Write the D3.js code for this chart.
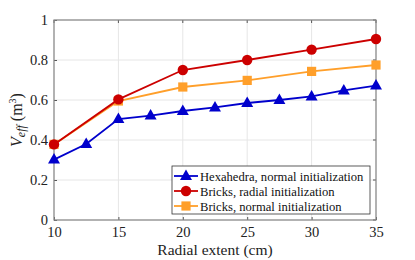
<!DOCTYPE html>
<html><head><meta charset="utf-8">
<script src="https://cdn.jsdelivr.net/npm/d3@7"></script>
<style>body{margin:0;background:#fff}svg{display:block}svg text{font-family:'Liberation Serif','Times New Roman',Times,'DejaVu Serif',serif}</style>
</head><body><svg id="c" width="415" height="260"></svg>
<script>
const hexX = [10,12.5,15,17.5,20,22.5,25,27.5,30,32.5,35];
const hexY = [0.302,0.38,0.505,0.522,0.545,0.563,0.585,0.6,0.618,0.648,0.672];
const radX = [10,15,20,25,30,35];
const radY = [0.378,0.603,0.75,0.8,0.852,0.905];
const nrmX = [10,15,20,25,30,35];
const nrmY = [0.378,0.595,0.665,0.698,0.743,0.775];
const xTicks = [10,15,20,25,30,35];
const yTicks = [0,0.2,0.4,0.6,0.8,1];
const yTickLabels = ["0","0.2","0.4","0.6","0.8","1"];
const legendLabels = ["Hexahedra, normal initialization","Bricks, radial initialization","Bricks, normal initialization"];
const colors = ["#0000cc","#cc0000","#ff9f2a"];
const FONT = "'Liberation Serif','Times New Roman',Times,'DejaVu Serif',serif";

const svg = d3.select("#c");
const L=54, R=376, T=20, B=220;
const x = d3.scaleLinear().domain([10,35]).range([L,R]);
const y = d3.scaleLinear().domain([0,1]).range([B,T]);

svg.append("g").selectAll("line").data(xTicks).join("line")
  .attr("x1",d=>x(d)).attr("x2",d=>x(d)).attr("y1",T).attr("y2",B)
  .attr("stroke","#e6e6e6").attr("stroke-width",1);
svg.append("g").selectAll("line").data(yTicks).join("line")
  .attr("y1",d=>y(d)).attr("y2",d=>y(d)).attr("x1",L).attr("x2",R)
  .attr("stroke","#e6e6e6").attr("stroke-width",1);

const xa = svg.append("g").attr("transform",`translate(0,${B})`)
  .call(d3.axisBottom(x).tickValues(xTicks).tickSize(-3).tickPadding(7).tickFormat(d3.format("d")));
const ya = svg.append("g").attr("transform",`translate(${L},0)`)
  .call(d3.axisLeft(y).tickValues(yTicks).tickSize(-3).tickPadding(6).tickFormat((d,i)=>yTickLabels[i]));
[xa,ya].forEach(a=>{
  a.attr("font-family",FONT);
  a.select(".domain").remove();
  a.selectAll(".tick line").attr("stroke","#555");
  a.selectAll("text").attr("font-size",14.5).attr("fill","#222").style("font-family",FONT);
});
svg.append("g").selectAll("line").data(xTicks).join("line")
  .attr("x1",d=>x(d)).attr("x2",d=>x(d)).attr("y1",T).attr("y2",T+3).attr("stroke","#555");
svg.append("g").selectAll("line").data(yTicks).join("line")
  .attr("y1",d=>y(d)).attr("y2",d=>y(d)).attr("x1",R).attr("x2",R-3).attr("stroke","#555");
svg.append("rect").attr("x",L).attr("y",T).attr("width",R-L).attr("height",B-T)
  .attr("fill","none").attr("stroke","#888").attr("stroke-width",1.2);

const line = d3.line().x(d=>x(d[0])).y(d=>y(d[1]));
const series = [
  {xs:hexX, ys:hexY, c:colors[0], m:"tri"},
  {xs:radX, ys:radY, c:colors[1], m:"circ"},
  {xs:nrmX, ys:nrmY, c:colors[2], m:"sq"}
];
function marker(g, m, c){
  if(m==="tri") g.append("path").attr("d","M0,-6.5L6,4L-6,4Z").attr("fill",c);
  else if(m==="circ") g.append("circle").attr("r",5.2).attr("fill",c);
  else g.append("rect").attr("x",-4.6).attr("y",-4.6).attr("width",9.2).attr("height",9.2).attr("fill",c);
}
[series[2],series[1],series[0]].forEach(s=>{
  const pts = s.xs.map((v,i)=>[v,s.ys[i]]);
  svg.append("path").datum(pts).attr("d",line).attr("fill","none").attr("stroke",s.c).attr("stroke-width",1.8);
  pts.forEach(p=>{
    const g=svg.append("g").attr("transform",`translate(${x(p[0])},${y(p[1])})`);
    marker(g,s.m,s.c);
  });
});

const lg = svg.append("g");
lg.append("rect").attr("x",172).attr("y",166).attr("width",198).attr("height",48)
  .attr("fill","#fff").attr("stroke","#333").attr("stroke-width",0.8);
series.forEach((s,i)=>{
  const yy = 176 + i*15;
  lg.append("line").attr("x1",174).attr("x2",198).attr("y1",yy).attr("y2",yy).attr("stroke",s.c).attr("stroke-width",1.8);
  const g=lg.append("g").attr("transform",`translate(186,${yy})`);
  marker(g,s.m,s.c);
  lg.append("text").attr("x",200).attr("y",yy+4.5).attr("font-size",12.6).attr("fill","#111")
    .style("font-family",FONT).text(legendLabels[i]);
});

svg.append("text").attr("x",(L+R)/2).attr("y",255).attr("text-anchor","middle").style("font-family",FONT)
  .attr("font-size",15.5).attr("fill","#222").text("Radial extent (cm)");
const yl = svg.append("text").attr("transform",`translate(22,${(T+B)/2}) rotate(-90)`).style("font-family",FONT)
  .attr("text-anchor","middle").attr("font-size",16).attr("fill","#222");
yl.append("tspan").attr("font-style","italic").text("V");
yl.append("tspan").attr("font-style","italic").attr("font-size",12).attr("dy",3).text("eff");
yl.append("tspan").attr("dy",-3).text(" (m");
yl.append("tspan").attr("font-size",10).attr("dy",-6).text("3");
yl.append("tspan").attr("dy",6).text(")");
</script></body></html>
